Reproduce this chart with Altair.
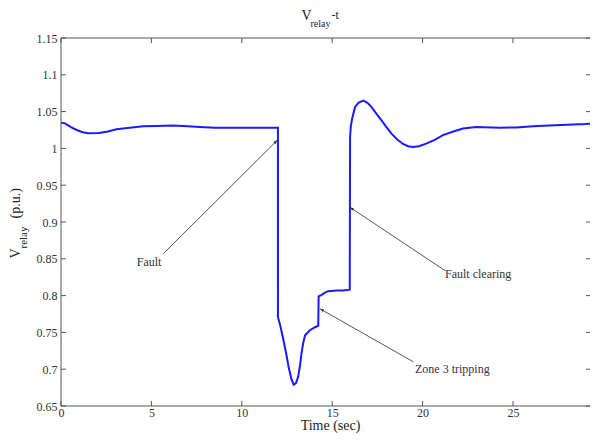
import math
import altair as alt
import pandas as pd

# ---- data ----
time = [0.00, 0.22, 0.55, 0.87, 1.20, 1.50, 2.10, 2.60, 3.07, 3.80, 4.55, 5.30, 6.20, 7.00,
        7.69, 8.50, 9.50, 10.50, 11.20, 12.00,
        12.00, 12.15, 12.30, 12.45, 12.59, 12.75, 12.87, 13.00, 13.12, 13.22, 13.30, 13.40,
        13.50, 13.77, 14.05, 14.23,
        14.25, 14.42, 14.60, 14.78, 15.25, 15.60, 15.97,
        15.99, 16.03, 16.10, 16.26, 16.45, 16.72, 16.95, 17.18, 17.45, 17.73, 18.00, 18.28,
        18.60, 18.92, 19.20, 19.47, 19.80, 20.20, 20.70, 21.13, 21.70, 22.24, 22.98, 24.28,
        25.20, 26.12, 27.00, 27.97, 29.00, 29.70]
volt = [1.035, 1.034, 1.029, 1.025, 1.022, 1.0205, 1.021, 1.023, 1.026, 1.028, 1.030, 1.0305,
        1.031, 1.030, 1.029, 1.028, 1.028, 1.028, 1.028, 1.028,
        0.771, 0.757, 0.740, 0.722, 0.703, 0.686, 0.679, 0.681, 0.690, 0.705, 0.721, 0.736,
        0.746, 0.753, 0.757, 0.759,
        0.799, 0.801, 0.804, 0.806, 0.807, 0.807, 0.808,
        1.015, 1.030, 1.040, 1.056, 1.062, 1.065, 1.062, 1.056, 1.047, 1.038, 1.029, 1.020,
        1.012, 1.006, 1.003, 1.002, 1.003, 1.0065, 1.012, 1.018, 1.023, 1.027, 1.029, 1.028,
        1.0285, 1.030, 1.031, 1.032, 1.033, 1.0345]

x_ticks = [0, 5, 10, 15, 20, 25]
y_ticks = [0.65, 0.7, 0.75, 0.8, 0.85, 0.9, 0.95, 1.0, 1.05, 1.1, 1.15]

ann_labels = ["Fault", "Fault clearing", "Zone 3 tripping"]
ann_text_t = [4.19, 21.24, 19.58]
ann_text_v = [0.840, 0.8235, 0.6944]
ann_tail_t = [5.66, 21.24, 19.49]
ann_tail_v = [0.857, 0.834, 0.710]
ann_head_t = [11.96, 15.98, 14.33]
ann_head_v = [1.011, 0.920, 0.782]

# ---- layout ----
W, H = 529, 368
XMIN, XMAX = 0.0, 29.26
YMIN, YMAX = 0.65, 1.15
FONT = "Liberation Serif"
FRAME = "#555555"

xs = alt.Scale(domain=[XMIN, XMAX], nice=False, zero=False)
ys = alt.Scale(domain=[YMIN, YMAX], nice=False, zero=False)
ax_x = alt.Axis(values=x_ticks, title=None, labelFlush=False)
ax_y = alt.Axis(values=y_ticks, format="~g", title=None, labelFlush=False)


def arrow_angle(t0, v0, t1, v1):
    dx = (t1 - t0) / (XMAX - XMIN) * W
    dy = -(v1 - v0) / (YMAX - YMIN) * H
    return math.degrees(math.atan2(dx, -dy)) % 360


df = pd.DataFrame({"i": list(range(len(time))), "t": time, "v": volt})
ann = pd.DataFrame({
    "label": ann_labels,
    "tt": ann_text_t, "tv": ann_text_v,
    "t0": ann_tail_t, "v0": ann_tail_v,
    "t1": ann_head_t, "v1": ann_head_v,
})
ann["ang"] = [arrow_angle(a, b, c, d) for a, b, c, d in
              zip(ann_tail_t, ann_tail_v, ann_head_t, ann_head_v)]

line = alt.Chart(df).mark_line(color="#1a1aff", strokeWidth=2, clip=True).encode(
    x=alt.X("t:Q", scale=xs, axis=ax_x),
    y=alt.Y("v:Q", scale=ys, axis=ax_y),
    order="i:Q",
)

one = pd.DataFrame({"a": [0]})
# frame (left, top, bottom) - the right side is cropped in the reference
frame = [
    alt.Chart(one).mark_rule(color=FRAME).encode(x=alt.value(0), y=alt.value(0), y2=alt.value(H)),
    alt.Chart(one).mark_rule(color=FRAME).encode(x=alt.value(0), x2=alt.value(W), y=alt.value(0)),
    alt.Chart(one).mark_rule(color=FRAME).encode(x=alt.value(0), x2=alt.value(W), y=alt.value(H)),
]

xt_df = pd.DataFrame({"t": x_ticks})
yt_df = pd.DataFrame({"v": y_ticks})
xtick_bottom = alt.Chart(xt_df).mark_rule(color=FRAME).encode(
    x=alt.X("t:Q", scale=xs, axis=ax_x), y=alt.value(H), y2=alt.value(H - 5))
xtick_top = alt.Chart(xt_df).mark_rule(color=FRAME).encode(
    x=alt.X("t:Q", scale=xs, axis=ax_x), y=alt.value(0), y2=alt.value(5))
ytick_left = alt.Chart(yt_df).mark_rule(color=FRAME).encode(
    y=alt.Y("v:Q", scale=ys, axis=ax_y), x=alt.value(0), x2=alt.value(5))
ytick_right = alt.Chart(yt_df).mark_rule(color=FRAME).encode(
    y=alt.Y("v:Q", scale=ys, axis=ax_y), x=alt.value(W), x2=alt.value(W - 4))

arrow_lines = alt.Chart(ann).mark_rule(color="#555555", strokeWidth=1).encode(
    x=alt.X("t0:Q", scale=xs, axis=ax_x), y=alt.Y("v0:Q", scale=ys, axis=ax_y),
    x2="t1:Q", y2="v1:Q")
arrow_heads = alt.Chart(ann).mark_point(
    shape="M0,0 L-0.4,1 L0.4,1 Z", filled=True, color="#333333", opacity=1, size=60
).encode(
    x=alt.X("t1:Q", scale=xs, axis=ax_x), y=alt.Y("v1:Q", scale=ys, axis=ax_y),
    angle=alt.Angle("ang:Q", scale=None))
ann_text = alt.Chart(ann).mark_text(
    font=FONT, fontSize=12, color="#333333", align="left", baseline="alphabetic"
).encode(
    x=alt.X("tt:Q", scale=xs, axis=ax_x), y=alt.Y("tv:Q", scale=ys, axis=ax_y),
    text="label:N")


def piece(txt, px, py, size, angle=0, align="left"):
    kw = dict(font=FONT, fontSize=size, color="#222222", align=align, baseline="alphabetic")
    if angle:
        kw["angle"] = angle
    return alt.Chart(one).mark_text(**kw).encode(
        x=alt.value(px), y=alt.value(py), text=alt.value(txt))


title_parts = [
    piece("V", 240.5, -18.5, 14),
    piece("relay", 249.5, -11.5, 10),
    piece("-t", 270.5, -19.5, 12),
]
ylabel_parts = [
    piece("V", -41.5, 220.5, 14, 270),
    piece("relay", -34.0, 210.5, 11, 270),
    piece("(p.u.)", -41.5, 180.5, 14, 270),
]
xlabel = piece("Time (sec)", 269.5, 392, 14, align="center")

chart = alt.layer(
    line, *frame, xtick_bottom, xtick_top, ytick_left, ytick_right,
    arrow_lines, arrow_heads, ann_text, *title_parts, *ylabel_parts, xlabel
).properties(
    width=W, height=H,
    autosize=alt.AutoSizeParams(type="none"),
    padding={"left": 53, "top": 30, "right": 0, "bottom": 27},
).configure_view(
    stroke=None
).configure_axis(
    labelFont=FONT, labelFontSize=12, labelColor="#333333",
    ticks=False, tickSize=0, domain=False, grid=False,
).configure_axisX(
    labelPadding=1
).configure_axisY(
    labelPadding=4
)

chart.save("out.html", embed_options={"renderer": "svg", "actions": False})
